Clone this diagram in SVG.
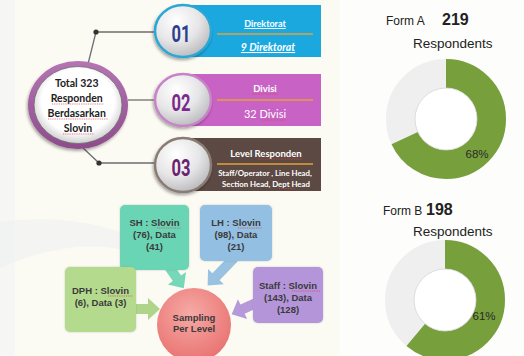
<svg xmlns="http://www.w3.org/2000/svg" width="524" height="356" viewBox="0 0 524 356">
<defs>
<style>
.cal{font-family:Lato,"Open Sans","Liberation Sans",sans-serif;font-weight:bold}
.reg{font-family:Lato,"Open Sans","Liberation Sans",sans-serif;font-weight:normal}
.ar{font-family:"Liberation Sans",Arial,sans-serif}
.lbl{font-family:"Liberation Sans",Arial,sans-serif;font-weight:bold;font-size:9.5px;fill:#3a3a3a;text-anchor:middle}
.num{font-family:Roboto,"Liberation Sans",sans-serif;font-size:24px;font-weight:bold;text-anchor:middle}
.wt{fill:#ffffff;text-anchor:middle}
.conn{stroke:#6e6e6e;stroke-width:1.3;fill:none}
.sq{stroke:#e0404a;stroke-width:0.7;stroke-dasharray:1 0.8;fill:none}
.ol{stroke:#e5a23a;stroke-width:1.4}
</style>
<radialGradient id="ball" cx="0.38" cy="0.3" r="0.75">
<stop offset="0" stop-color="#ffffff"/>
<stop offset="0.55" stop-color="#e6e6e8"/>
<stop offset="1" stop-color="#b8b8bc"/>
</radialGradient>
<radialGradient id="inner" cx="0.5" cy="0.45" r="0.55">
<stop offset="0.75" stop-color="#ffffff"/>
<stop offset="1" stop-color="#cfcfcf"/>
</radialGradient>
<linearGradient id="ring" x1="0" y1="0" x2="0" y2="1">
<stop offset="0" stop-color="#b574b3"/>
<stop offset="1" stop-color="#8e4c8c"/>
</linearGradient>
<radialGradient id="samp" cx="0.45" cy="0.35" r="0.7">
<stop offset="0" stop-color="#f6aaa6"/>
<stop offset="1" stop-color="#e8706e"/>
</radialGradient>
<filter id="sh" x="-20%" y="-20%" width="140%" height="150%">
<feDropShadow dx="-1" dy="2" stdDeviation="1.5" flood-color="#000" flood-opacity="0.35"/>
</filter>
<filter id="glow" x="-10%" y="-10%" width="120%" height="120%">
<feDropShadow dx="0" dy="0" stdDeviation="1" flood-color="#888" flood-opacity="0.4"/>
</filter>
</defs>

<!-- background -->
<rect width="524" height="356" fill="#fcfbf3"/>
<rect width="15" height="356" fill="#f6f6f4"/>
<rect x="340" width="184" height="356" fill="#fdfdfb"/>
<path d="M0,222 Q90,210 160,250 L160,262 Q90,228 0,268 Z" fill="#eceff2" opacity="0.5"/>

<!-- connectors -->
<g id="connectors">
<polyline class="conn" points="88,64 96,32 156,32"/>
<line class="conn" x1="128" y1="100" x2="156" y2="100"/>
<polyline class="conn" points="82,147 99,163 156,163"/>
<circle cx="96" cy="32" r="2.6" fill="#333"/>
<circle cx="99" cy="163" r="2.6" fill="#333"/>
<polygon transform="translate(165,261) rotate(55.3)" points="0,-5 21,-5 21,-11 33,0 21,11 21,5 0,5" fill="#5fd0ae" opacity="0.85"/>
<polygon transform="translate(234,258) rotate(133.9)" points="0,-5 26,-5 26,-11 38,0 26,11 26,5 0,5" fill="#86b7dc" opacity="0.85"/>
<polygon transform="translate(136,309) rotate(0)" points="0,-5 12,-5 12,-11 24,0 12,11 12,5 0,5" fill="#a6d07e" opacity="0.9"/>
<polygon transform="translate(258,302) rotate(155.2)" points="0,-5 17,-5 17,-11 29,0 17,11 17,5 0,5" fill="#ad8ed6" opacity="0.9"/>
</g>

<!-- main circle -->
<g id="total">
<ellipse cx="78" cy="105" rx="50" ry="44" fill="url(#ring)" filter="url(#sh)"/>
<ellipse cx="78" cy="105" rx="44" ry="38.5" fill="url(#inner)" stroke="#6e6e6e" stroke-width="0.8"/>
<text class="cal" font-size="10.5" text-anchor="middle" fill="#222">
<tspan x="78" y="87">Total 323</tspan>
<tspan x="78" y="102">Responden</tspan>
<tspan x="78" y="117">Berdasarkan</tspan>
<tspan x="78" y="132">Slovin</tspan>
</text>
<path class="sq" d="M52,104 H104 M48,119 H108 M63,134 H94"/>
</g>

<!-- 01 -->
<g id="n01">
<rect x="182" y="5" width="139" height="52" fill="#1ba8df"/>
<ellipse cx="183" cy="31" rx="28" ry="26" fill="url(#ball)" stroke="#2ba7d6" stroke-width="2.5" filter="url(#sh)"/>
<text class="num" x="181" y="42" fill="#2d3f8d" textLength="19" lengthAdjust="spacingAndGlyphs">01</text>
<text class="cal wt" x="265" y="27" font-size="9" text-decoration="underline">Direktorat</text>
<line class="ol" x1="217" y1="34" x2="313" y2="34"/>
<text class="cal wt" x="268" y="51" font-size="10.5" font-style="italic" text-decoration="underline">9 Direktorat</text>
</g>

<!-- 02 -->
<g id="n02">
<rect x="182" y="74" width="139" height="52" fill="#c862c4"/>
<ellipse cx="183" cy="100" rx="28" ry="26" fill="url(#ball)" stroke="#c882c8" stroke-width="2.5" filter="url(#sh)"/>
<text class="num" x="181" y="111" fill="#7b2a8b" textLength="19" lengthAdjust="spacingAndGlyphs">02</text>
<text class="cal wt" x="265" y="92" font-size="9.5">Divisi</text>
<line class="ol" x1="217" y1="100" x2="313" y2="100"/>
<text class="reg wt" x="265" y="118" font-size="11">32 Divisi</text>
<path class="sq" d="M252,94 H278 M262,120 H286"/>
</g>

<!-- 03 -->
<g id="n03">
<rect x="182" y="138" width="139" height="53" fill="#5c4943"/>
<ellipse cx="183" cy="165" rx="28" ry="27" fill="url(#ball)" stroke="#8a7c74" stroke-width="2.5" filter="url(#sh)"/>
<text class="num" x="181" y="176" fill="#6b226f" textLength="19" lengthAdjust="spacingAndGlyphs">03</text>
<text class="cal wt" x="266" y="157" font-size="9.5">Level Responden</text>
<line class="ol" x1="217" y1="164" x2="313" y2="164"/>
<text class="cal wt" font-size="7.8">
<tspan x="266" y="176">Staff/Operator , Line Head,</tspan>
<tspan x="266" y="186.5">Section Head, Dept Head</tspan>
</text>
<path class="sq" d="M258,159 H302 M279,188.5 H295"/>
</g>

<!-- boxes -->
<g id="sh">
<rect x="120" y="205" width="69" height="65" rx="5" fill="#6bd5b4" filter="url(#glow)"/>
<text class="lbl"><tspan x="154.5" y="226">SH : Slovin</tspan><tspan x="154.5" y="238">(76), Data</tspan><tspan x="154.5" y="250">(41)</tspan></text>
<path class="sq" d="M157,228 H181"/>
</g>
<g id="lh">
<rect x="200" y="205" width="72" height="56" rx="5" fill="#92bfe2" filter="url(#glow)"/>
<text class="lbl"><tspan x="236" y="226">LH : Slovin</tspan><tspan x="236" y="238">(98), Data</tspan><tspan x="236" y="250">(21)</tspan></text>
<path class="sq" d="M238,228 H262"/>
</g>
<g id="dph">
<rect x="65" y="267" width="71" height="65" rx="5" fill="#b4da8e" filter="url(#glow)"/>
<text class="lbl"><tspan x="100.5" y="294">DPH : Slovin</tspan><tspan x="100.5" y="306">(6), Data (3)</tspan></text>
<path class="sq" d="M108,296 H133"/>
</g>
<g id="staff">
<rect x="253" y="267" width="70" height="56" rx="5" fill="#b495da" filter="url(#glow)"/>
<text class="lbl"><tspan x="288" y="289">Staff : Slovin</tspan><tspan x="288" y="301">(143), Data</tspan><tspan x="288" y="313">(128)</tspan></text>
<path class="sq" d="M292,291 H320"/>
</g>
<g id="sampling">
<circle cx="194" cy="325" r="37" fill="url(#samp)"/>
<text class="lbl" fill="#4a3434"><tspan x="194" y="321">Sampling</tspan><tspan x="194" y="332">Per Level</tspan></text>
</g>

<!-- Form A -->
<g id="formA">
<text class="ar" x="386" y="25" font-size="12" fill="#222">Form A</text>
<text class="ar" x="442" y="25" font-size="16" font-weight="bold" fill="#222">219</text>
<text class="ar" x="413" y="48" font-size="13.5" fill="#222">Respondents</text>
<circle cx="446" cy="119" r="45.5" fill="none" stroke="#efefef" stroke-width="29"/>
<circle cx="446" cy="119" r="45.5" fill="none" stroke="#77a03c" stroke-width="29" stroke-dasharray="194.4 400" transform="rotate(-90 446 119)"/>
<circle cx="446" cy="119" r="31" fill="#ffffff" stroke="#d4d4d4" stroke-width="0.8"/>
<text class="ar" x="477" y="158" font-size="11.5" fill="#2a2a2a" text-anchor="middle">68%</text>
</g>

<!-- Form B -->
<g id="formB">
<text class="ar" x="383" y="215" font-size="12" fill="#222">Form B</text>
<text class="ar" x="426" y="215" font-size="16" font-weight="bold" fill="#222">198</text>
<text class="ar" x="413" y="236" font-size="13.5" fill="#222">Respondents</text>
<circle cx="445" cy="300" r="45.5" fill="none" stroke="#efefef" stroke-width="29"/>
<circle cx="445" cy="300" r="45.5" fill="none" stroke="#77a03c" stroke-width="29" stroke-dasharray="174.4 400" transform="rotate(-90 445 300)"/>
<circle cx="445" cy="300" r="31" fill="#ffffff" stroke="#d4d4d4" stroke-width="0.8"/>
<text class="ar" x="484" y="320" font-size="11.5" fill="#2a2a2a" text-anchor="middle">61%</text>
</g>
</svg>
